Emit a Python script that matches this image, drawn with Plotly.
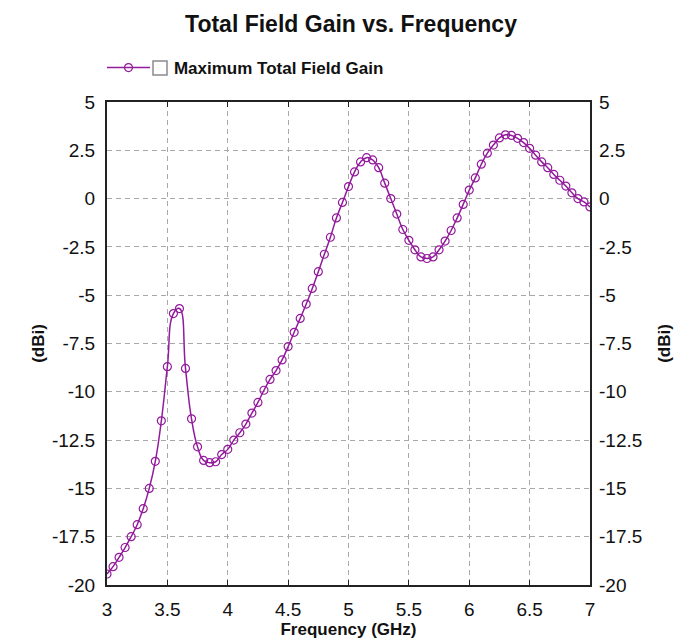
import plotly.graph_objects as go

# Frequency sweep (GHz)
freq_ghz = [round(3.0 + 0.05 * i, 2) for i in range(81)]

# Maximum total field gain (dBi)
gain_dbi = [
    -19.43, -19.05, -18.57, -18.06, -17.50, -16.88, -16.05, -15.00, -13.60, -11.50,
    -8.70, -5.95, -5.69, -8.79, -11.40, -12.85, -13.55, -13.67, -13.62, -13.25,
    -12.98, -12.50, -12.12, -11.67, -11.10, -10.55, -9.92, -9.36, -8.90, -8.35,
    -7.66, -6.92, -6.20, -5.46, -4.65, -3.78, -2.88, -2.00, -1.00, -0.20,
    0.62, 1.38, 1.90, 2.12, 2.00, 1.60, 0.80, 0.00, -0.80, -1.60,
    -2.16, -2.65, -3.02, -3.10, -3.02, -2.65, -2.20, -1.65, -1.00, -0.30,
    0.44, 1.07, 1.78, 2.35, 2.77, 3.14, 3.30, 3.27, 3.12, 2.90,
    2.60, 2.25, 1.90, 1.60, 1.25, 0.95, 0.65, 0.30, 0.00, -0.17,
    -0.43,
]

x_ticks = [3, 3.5, 4, 4.5, 5, 5.5, 6, 6.5, 7]
x_tick_text = ["3", "3.5", "4", "4.5", "5", "5.5", "6", "6.5", "7"]
y_ticks = [-20, -17.5, -15, -12.5, -10, -7.5, -5, -2.5, 0, 2.5, 5]
y_tick_text = ["-20", "-17.5", "-15", "-12.5", "-10", "-7.5", "-5", "-2.5", "0", "2.5", "5"]

series_name = "Maximum Total Field Gain"
title_text = "Total Field Gain vs. Frequency"
x_title = "Frequency (GHz)"
y_title = "(dBi)"

LINE_COLOR = "#931a9c"
FONT = "Liberation Sans, Arial, sans-serif"
GRID = "#a8a8a8"
TXT = "#111111"

# the page body adds an 8px offset, so figure coordinates are page coordinates minus 8
OFF = 8
W, H = 692, 641
ML, MT = 107 - OFF, 102 - OFF
MR, MB = W - (590 - OFF), H - (585 - OFF)
PW, PH = W - ML - MR, H - MT - MB

fig = go.Figure()
fig.add_trace(go.Scatter(
    x=freq_ghz, y=gain_dbi, mode="lines+markers",
    name="\u00a0\u00a0\u00a0\u00a0<b>" + series_name + "</b>",
    line=dict(color=LINE_COLOR, width=1.5, shape="spline", smoothing=1.3),
    marker=dict(symbol="circle-open", size=8, color=LINE_COLOR, line=dict(width=1.2, color=LINE_COLOR)),
))
# invisible twin so the right-hand axis is drawn
fig.add_trace(go.Scatter(
    x=freq_ghz, y=gain_dbi, yaxis="y2", mode="markers",
    marker=dict(opacity=0), showlegend=False, hoverinfo="skip",
))

tick_font = dict(family=FONT, size=19, color=TXT)
title_font = dict(family=FONT, size=17, color=TXT)

fig.update_layout(
    width=W, height=H,
    paper_bgcolor="white", plot_bgcolor="white",
    margin=dict(l=ML, r=MR, t=MT, b=MB, autoexpand=False),
    title=dict(text="<b>" + title_text + "</b>", x=(351 - OFF) / W, xanchor="center",
               y=1 - (24 - OFF) / H, yanchor="middle",
               font=dict(family=FONT, size=23, color=TXT)),
    showlegend=True,
    legend=dict(xref="container", yref="container", x=(102 - OFF) / W, y=1 - (68 - OFF) / H,
                xanchor="left", yanchor="middle", orientation="h",
                font=dict(family=FONT, size=17, color=TXT), itemwidth=43,
                bgcolor="rgba(0,0,0,0)"),
    xaxis=dict(range=[3, 7], tickvals=x_ticks, ticktext=x_tick_text,
               showline=True, linecolor="#222222", linewidth=2, mirror="ticks",
               ticks="inside", ticklen=5, tickcolor="#222222", ticklabelstandoff=6,
               showgrid=True, gridcolor=GRID, griddash="5px,4px", gridwidth=1, zeroline=False,
               tickfont=tick_font, automargin=False,
               title=dict(text="<b>" + x_title + "</b>", font=title_font, standoff=4)),
    yaxis=dict(range=[-20, 5], tickvals=y_ticks, ticktext=y_tick_text,
               showline=True, linecolor="#222222", linewidth=2, mirror=True, ticks="",
               ticklabelstandoff=6,
               showgrid=True, gridcolor=GRID, griddash="5px,4px", gridwidth=1, zeroline=False,
               tickfont=tick_font, automargin=False,
               title=dict(text="<b>" + y_title + "</b>", font=title_font, standoff=3)),
    yaxis2=dict(range=[-20, 5], tickvals=y_ticks, ticktext=y_tick_text, overlaying="y", side="right",
                showgrid=False, ticks="", showline=False, zeroline=False, ticklabelstandoff=8,
                tickfont=tick_font, automargin=False,
                title=dict(text="<b>" + y_title + "</b>", font=title_font, standoff=16)),
)

# checkbox square in the legend (page pixels converted to paper coordinates)
def px_x(p):
    return (p - OFF - ML) / PW

def px_y(p):
    return (H - MB - (p - OFF)) / PH

fig.add_shape(type="rect", xref="paper", yref="paper",
              x0=px_x(153), x1=px_x(167), y0=px_y(75), y1=px_y(61),
              line=dict(color="#8a8a8a", width=1.5), fillcolor="white", layer="above")

fig.write_html("out.html")
